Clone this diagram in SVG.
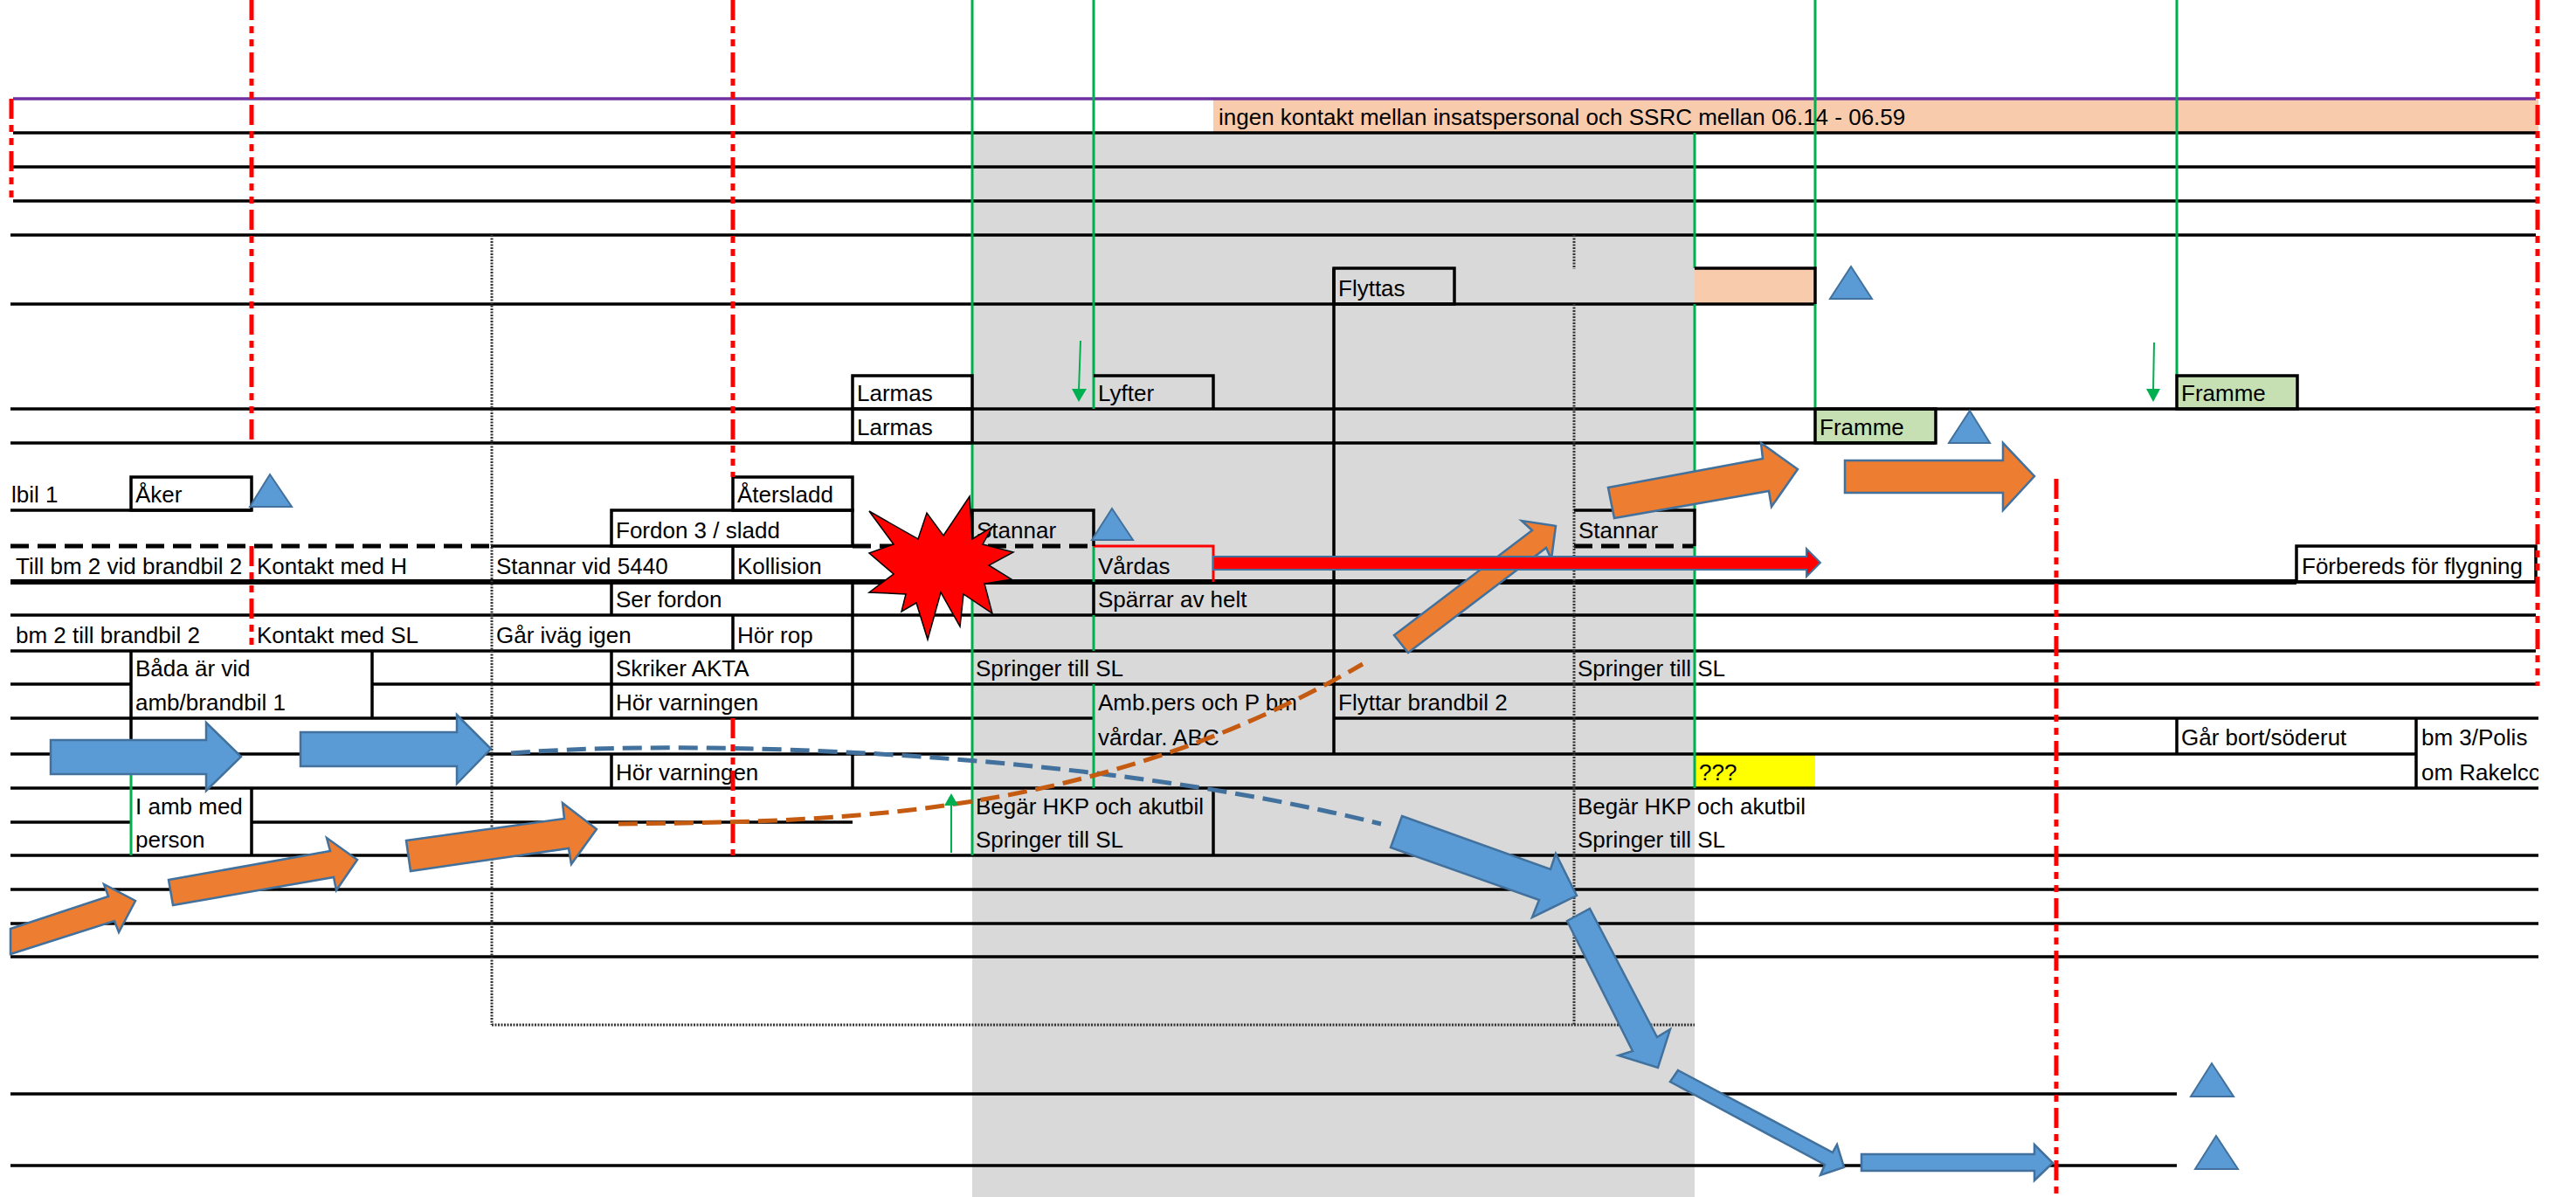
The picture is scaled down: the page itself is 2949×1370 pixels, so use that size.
<svg xmlns="http://www.w3.org/2000/svg" width="2949" height="1370" viewBox="0 0 2949 1370">
<style>
.ln{stroke:#000;stroke-width:3.5;fill:none}
.thick{stroke:#000;stroke-width:6;fill:none}
.grn{stroke:#00B050;stroke-width:3;fill:none}
.rd{stroke:#FF0000;stroke-width:5;stroke-dasharray:23 7 8 7 8 7;fill:none}
.dot{stroke:#333;stroke-width:3;stroke-dasharray:2 1.5;fill:none}
.dash{stroke:#000;stroke-width:5;stroke-dasharray:21 10;fill:none}
.t{font-family:"Liberation Sans",Arial,sans-serif;font-size:26px;fill:#000}
.ba{fill:#5B9BD5;stroke:#41719C;stroke-width:2.5}
.oa{fill:#ED7D31;stroke:#41719C;stroke-width:2.5}
.tri{fill:#5B9BD5;stroke:#41719C;stroke-width:2}
.box{fill:none;stroke:#000;stroke-width:3.5}
.garrow{stroke:#00B050;stroke-width:2;fill:none}
</style>
<defs>
<clipPath id="clipR"><rect x="0" y="0" width="2906" height="1370"/></clipPath>
</defs>
<rect x="0" y="0" width="2949" height="1370" fill="#fff"/>
<g id="backgrounds">
<rect x="1113" y="152" width="827" height="1218" fill="#D9D9D9"/>
<rect x="1389" y="113" width="1517" height="39" fill="#F8CBAD"/>
<rect x="1940" y="307" width="138" height="41" fill="#F8CBAD"/>
<rect x="1940" y="863" width="138" height="39" fill="#FFFF00"/>
<rect x="2078" y="468" width="138" height="39" fill="#C6E0B4"/>
<rect x="2492" y="430" width="138" height="38" fill="#C6E0B4"/>
</g>
<g id="grid">
<line class="ln" x1="15" y1="152" x2="2903" y2="152"/>
<line class="ln" x1="15" y1="191" x2="2903" y2="191"/>
<line class="ln" x1="15" y1="230" x2="2903" y2="230"/>
<line class="ln" x1="12" y1="269" x2="2903" y2="269"/>
<line class="ln" x1="12" y1="348" x2="2078" y2="348"/>
<line class="ln" x1="12" y1="468" x2="2903" y2="468"/>
<line class="ln" x1="12" y1="507" x2="2216" y2="507"/>
<line class="ln" x1="12" y1="584" x2="288" y2="584"/>
<line class="ln" x1="562" y1="625" x2="976" y2="625"/>
<line class="thick" x1="12" y1="666" x2="2629" y2="666"/>
<line class="ln" x1="2629" y1="666" x2="2903" y2="666"/>
<line class="ln" x1="12" y1="704" x2="2903" y2="704"/>
<line class="ln" x1="12" y1="745" x2="2903" y2="745"/>
<line class="ln" x1="12" y1="783" x2="150" y2="783"/>
<line class="ln" x1="426" y1="783" x2="2903" y2="783"/>
<line class="ln" x1="12" y1="822" x2="1252" y2="822"/>
<line class="ln" x1="1527" y1="822" x2="2906" y2="822"/>
<line class="ln" x1="12" y1="863" x2="2766" y2="863"/>
<line class="ln" x1="12" y1="902" x2="2906" y2="902"/>
<line class="ln" x1="12" y1="941" x2="150" y2="941"/>
<line class="ln" x1="288" y1="941" x2="976" y2="941"/>
<line class="ln" x1="12" y1="979" x2="2906" y2="979"/>
<line class="ln" x1="12" y1="1018" x2="2906" y2="1018"/>
<line class="ln" x1="12" y1="1057" x2="2906" y2="1057"/>
<line class="ln" x1="12" y1="1095" x2="2906" y2="1095"/>
<line class="ln" x1="12" y1="1252" x2="2492" y2="1252"/>
<line class="ln" x1="12" y1="1334" x2="2492" y2="1334"/>
<line stroke="#7030A0" stroke-width="3.5" x1="15" y1="113" x2="2903" y2="113"/>
<line class="dash" x1="12" y1="625" x2="562" y2="625"/>
<line class="dash" x1="976" y1="625" x2="1252" y2="625"/>
<line class="dash" x1="1802" y1="625" x2="1940" y2="625"/>
<line class="dot" x1="563" y1="269" x2="563" y2="1173"/>
<line class="dot" x1="1802" y1="269" x2="1802" y2="308"/>
<line class="dot" x1="1802" y1="348" x2="1802" y2="1173"/>
<line class="dot" x1="563" y1="1173" x2="1940" y2="1173"/>
<line class="grn" x1="1113" y1="0" x2="1113" y2="430"/>
<line class="grn" x1="1113" y1="507" x2="1113" y2="979"/>
<line class="grn" x1="1252" y1="0" x2="1252" y2="468"/>
<line class="grn" x1="1252" y1="625" x2="1252" y2="666"/>
<line class="grn" x1="1252" y1="704" x2="1252" y2="745"/>
<line class="grn" x1="1252" y1="783" x2="1252" y2="902"/>
<line class="grn" x1="1940" y1="152" x2="1940" y2="307"/>
<line class="grn" x1="1940" y1="348" x2="1940" y2="584"/>
<line class="grn" x1="1940" y1="625" x2="1940" y2="902"/>
<line class="grn" x1="2078" y1="0" x2="2078" y2="307"/>
<line class="grn" x1="2078" y1="348" x2="2078" y2="468"/>
<line class="grn" x1="2492" y1="0" x2="2492" y2="430"/>
<line class="grn" x1="150" y1="863" x2="150" y2="979"/>
<line class="ln" x1="1527" y1="307" x2="1527" y2="863"/>
<line class="ln" x1="150" y1="745" x2="150" y2="863"/>
<line class="ln" x1="426" y1="745" x2="426" y2="822"/>
<line class="ln" x1="700" y1="666" x2="700" y2="704"/>
<line class="ln" x1="700" y1="745" x2="700" y2="822"/>
<line class="ln" x1="700" y1="863" x2="700" y2="902"/>
<line class="ln" x1="839" y1="625" x2="839" y2="666"/>
<line class="ln" x1="839" y1="704" x2="839" y2="745"/>
<line class="ln" x1="976" y1="666" x2="976" y2="822"/>
<line class="ln" x1="976" y1="863" x2="976" y2="902"/>
<line class="ln" x1="1252" y1="666" x2="1252" y2="704"/>
<line class="ln" x1="288" y1="902" x2="288" y2="979"/>
<line class="ln" x1="1389" y1="902" x2="1389" y2="979"/>
<line class="ln" x1="2492" y1="822" x2="2492" y2="863"/>
<line class="ln" x1="2766" y1="822" x2="2766" y2="902"/>
<polyline points="1252,625 1389,625 1389,666" fill="none" stroke="#FF0000" stroke-width="3"/>
</g>
<g id="n-ingen"><text class="t" x="1395" y="143">ingen kontakt mellan insatspersonal och SSRC mellan 06.14 - 06.59</text></g>
<g id="n-flyttas"><rect class="box" x="1527" y="307" width="138" height="41"/><text class="t" x="1532" y="339">Flyttas</text></g>
<g id="n-peach"><polyline class="ln" points="1940,307 2078,307 2078,348"/><polygon class="tri" points="2119,305 2095,342 2143,342"/></g>
<g id="n-larmas1"><rect class="box" x="976" y="430" width="137" height="38"/><text class="t" x="981" y="459">Larmas</text></g>
<g id="n-lyfter"><polyline class="ln" points="1252,430 1389,430 1389,468"/><text class="t" x="1257" y="459">Lyfter</text></g>
<g id="n-framme2"><rect class="box" x="2492" y="430" width="138" height="38"/><text class="t" x="2497" y="459">Framme</text></g>
<g id="n-larmas2"><rect class="box" x="976" y="468" width="137" height="39"/><text class="t" x="981" y="498">Larmas</text></g>
<g id="n-framme1"><rect class="box" x="2078" y="468" width="138" height="39"/><text class="t" x="2083" y="498">Framme</text><polygon class="tri" points="2255,470 2231,507 2278,507"/></g>
<g id="n-lbil"><text class="t" x="13" y="575">lbil 1</text></g>
<g id="n-aker"><rect class="box" x="150" y="546" width="138" height="38"/><text class="t" x="155" y="575">Åker</text><polygon class="tri" points="309,543 286,580 334,580"/></g>
<g id="n-atersladd"><rect class="box" x="839" y="546" width="137" height="38"/><text class="t" x="844" y="575">Återsladd</text></g>
<g id="n-fordon3"><rect class="box" x="700" y="584" width="276" height="41"/><text class="t" x="705" y="616">Fordon 3 / sladd</text></g>
<g id="n-stannar1"><polyline class="ln" points="1113,625 1113,584 1252,584 1252,625"/><text class="t" x="1118" y="616">Stannar</text><polygon class="tri" points="1273,582 1250,618 1297,618"/></g>
<g id="n-stannar2"><polyline class="ln" points="1802,584 1940,584 1940,625"/><text class="t" x="1807" y="616">Stannar</text></g>
<g id="n-tillbm2"><text class="t" x="18" y="657">Till bm 2 vid brandbil 2</text></g>
<g id="n-kontaktH"><text class="t" x="294" y="657">Kontakt med H</text></g>
<g id="n-stannarvid"><text class="t" x="568" y="657">Stannar vid 5440</text></g>
<g id="n-kollision"><text class="t" x="844" y="657">Kollision</text></g>
<g id="n-vardas"><text class="t" x="1257" y="657">Vårdas</text></g>
<g id="n-forbereds"><rect class="box" x="2629" y="625" width="274" height="41"/><text class="t" x="2635" y="657">Förbereds för flygning</text></g>
<g id="n-serfordon"><text class="t" x="705" y="695">Ser fordon</text></g>
<g id="n-sparrar"><text class="t" x="1257" y="695">Spärrar av helt</text></g>
<g id="n-bm2till"><text class="t" x="18" y="736">bm 2 till brandbil 2</text></g>
<g id="n-kontaktSL"><text class="t" x="294" y="736">Kontakt med SL</text></g>
<g id="n-garivag"><text class="t" x="568" y="736">Går iväg igen</text></g>
<g id="n-horrop"><text class="t" x="844" y="736">Hör rop</text></g>
<g id="n-bada"><text class="t" x="155" y="774">Båda är vid</text><text class="t" x="155" y="813">amb/brandbil 1</text></g>
<g id="n-skriker"><text class="t" x="705" y="774">Skriker AKTA</text></g>
<g id="n-springer1"><text class="t" x="1117" y="774">Springer till SL</text></g>
<g id="n-springer2"><text class="t" x="1806" y="774">Springer till SL</text></g>
<g id="n-horvarn1"><text class="t" x="705" y="813">Hör varningen</text></g>
<g id="n-ambpers"><text class="t" x="1257" y="813">Amb.pers och P bm</text><text class="t" x="1257" y="853">vårdar. ABC</text></g>
<g id="n-flyttar"><text class="t" x="1532" y="813">Flyttar brandbil 2</text></g>
<g id="n-garbort"><text class="t" x="2497" y="853">Går bort/söderut</text></g>
<g id="n-bm3" clip-path="url(#clipR)"><text class="t" x="2772" y="853">bm 3/Polis</text><text class="t" x="2772" y="893">om Rakelcc</text></g>
<g id="n-horvarn2"><text class="t" x="705" y="893">Hör varningen</text></g>
<g id="n-qqq"><text class="t" x="1945" y="893">???</text></g>
<g id="n-iamb"><text class="t" x="155" y="932">I amb med</text><text class="t" x="155" y="970">person</text></g>
<g id="n-begar1"><text class="t" x="1117" y="932">Begär HKP och akutbil</text><text class="t" x="1117" y="970">Springer till SL</text></g>
<g id="n-begar2"><text class="t" x="1806" y="932">Begär HKP och akutbil</text><text class="t" x="1806" y="970">Springer till SL</text></g>
<g id="n-tri-bottom"><polygon class="tri" points="2532,1217 2508,1255 2557,1255"/><polygon class="tri" points="2537,1300 2513,1338 2562,1338"/></g>
<g id="timelines">
<line class="rd" x1="13" y1="113" x2="13" y2="230"/>
<line class="rd" x1="288" y1="0" x2="288" y2="507"/>
<line class="rd" x1="288" y1="625" x2="288" y2="745"/>
<line class="rd" x1="839" y1="0" x2="839" y2="546"/>
<line class="rd" x1="839" y1="822" x2="839" y2="979"/>
<line class="rd" x1="2354" y1="548" x2="2354" y2="1370"/>
<line class="rd" x1="2905" y1="0" x2="2905" y2="785"/>
</g>
<g id="connectors">
<path d="M585,862 C800,845 1250,860 1581,943" fill="none" stroke="#41719C" stroke-width="5" stroke-dasharray="22 10"/>
<path d="M708,943 C950,940 1250,940 1560,760" fill="none" stroke="#C55A11" stroke-width="5" stroke-dasharray="22 10"/>
<polygon class="ba" points="58,847 236,847 236,827 276,866 236,905 236,886 58,886"/>
<polygon class="ba" points="344,838 523,838 523,818 562,857 523,897 523,877 344,877"/>
<polygon class="ba" points="1605,934 1775,995 1781,977 1805,1025 1754,1050 1762,1030 1592,970"/>
<polygon class="ba" points="1794,1054 1820,1040 1897,1187 1912,1178 1898,1222 1853,1208 1869,1203"/>
<polygon class="ba" points="1921,1225 2098,1319 2103,1310 2111,1336 2084,1345 2089,1333 1912,1238"/>
<polygon class="ba" points="2131,1321 2329,1321 2329,1310 2350,1331 2329,1351 2329,1340 2131,1340"/>
<polygon class="oa" points="12,1063 124,1026 119,1012 155,1031 136,1067 131,1054 12,1092"/>
<polygon class="oa" points="193,1007 378,974 374,959 409,984 385,1019 382,1004 198,1036"/>
<polygon class="oa" points="465,962 646,937 644,919 683,949 654,989 651,971 470,997"/>
<polygon class="oa" points="1596,727 1754,607 1742,596 1781,602 1776,640 1770,627 1612,747"/>
<polygon class="oa" points="1841,558 2018,525 2016,507 2058,537 2028,580 2025,562 1848,593"/>
<polygon class="oa" points="2112,527 2293,527 2293,507 2329,545 2293,584 2293,564 2112,564"/>
<polygon points="1389,637 2068,637 2068,628 2084,644 2068,660 2068,652 1389,652" fill="#FF0000" stroke="#41719C" stroke-width="2"/>
<line class="garrow" x1="1237" y1="390" x2="1235" y2="447"/>
<polygon points="1227,445 1244,445 1235,460" fill="#00B050"/>
<line class="garrow" x1="2466" y1="392" x2="2465" y2="447"/>
<polygon points="2457,445 2473,445 2465,460" fill="#00B050"/>
<line class="garrow" x1="1089" y1="976" x2="1089" y2="920"/>
<polygon points="1081,922 1097,922 1089,908" fill="#00B050"/>
</g>
<g id="n-collision">
<polygon points="995,585 1051,617 1061,587 1080,613 1110,568 1113,617 1136,603 1125,623 1160,632 1132,647 1158,663 1127,668 1136,702 1103,680 1099,717 1077,678 1062,732 1049,690 1032,700 1037,680 995,678 1023,657 995,633 1023,623" fill="#FF0000" stroke="#000" stroke-width="1.5"/>
</g>
</svg>
